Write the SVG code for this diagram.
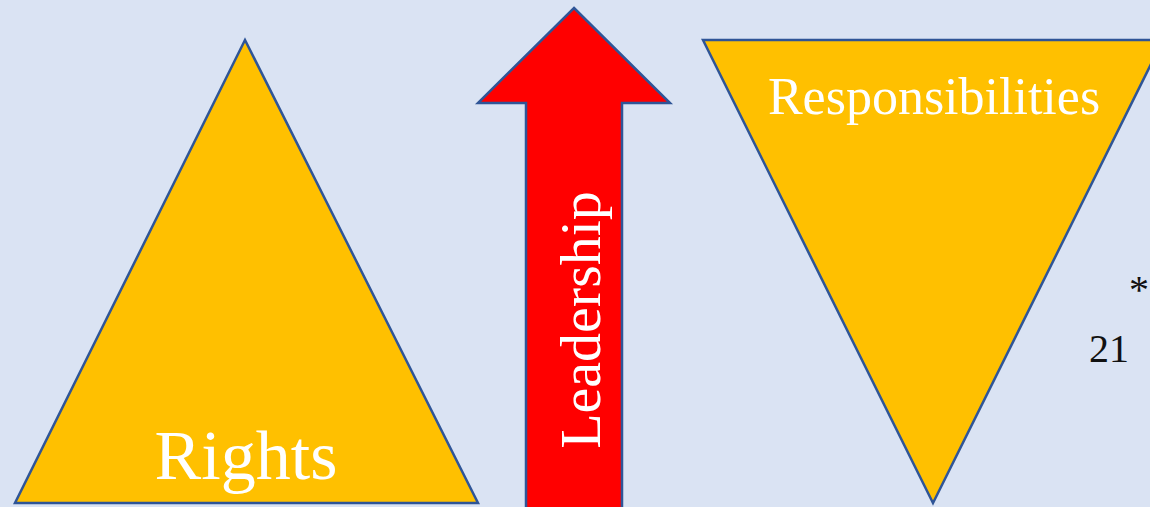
<svg xmlns="http://www.w3.org/2000/svg" width="1150" height="507" viewBox="0 0 1150 507">
<style>
.shape{fill:#FFC000;stroke:#2F5597;stroke-width:2.5;stroke-linejoin:miter}
.lbl{font-family:"Liberation Serif","DejaVu Serif",serif;fill:#FFFFFF}
.note{font-family:"Liberation Serif","DejaVu Serif",serif;fill:#111111;font-size:40px}
</style>
<rect x="0" y="0" width="1150" height="507" fill="#DAE3F3"/>
<g id="rights">
<polygon class="shape" points="245,40 478,503 15,503"/>
<text class="lbl" x="246" y="479" font-size="70" text-anchor="middle">Rights</text>
</g>
<g id="leadership">
<polygon class="shape" style="fill:#FF0000" points="574,8 670,103 622,103 622,510 526,510 526,103 478,103"/>
<text class="lbl" transform="translate(600,320) rotate(-90)" x="0" y="0" font-size="58" text-anchor="middle">Leadership</text>
</g>
<g id="responsibilities">
<polygon class="shape" points="703,40 1163,40 933,503"/>
<text class="lbl" x="934" y="114" font-size="52" text-anchor="middle">Responsibilities</text>
</g>
<g id="notes">
<text class="note" x="1129" y="303">*</text>
<text class="note" x="1089" y="362">21</text>
</g>
<g id="connectors"></g>
</svg>
